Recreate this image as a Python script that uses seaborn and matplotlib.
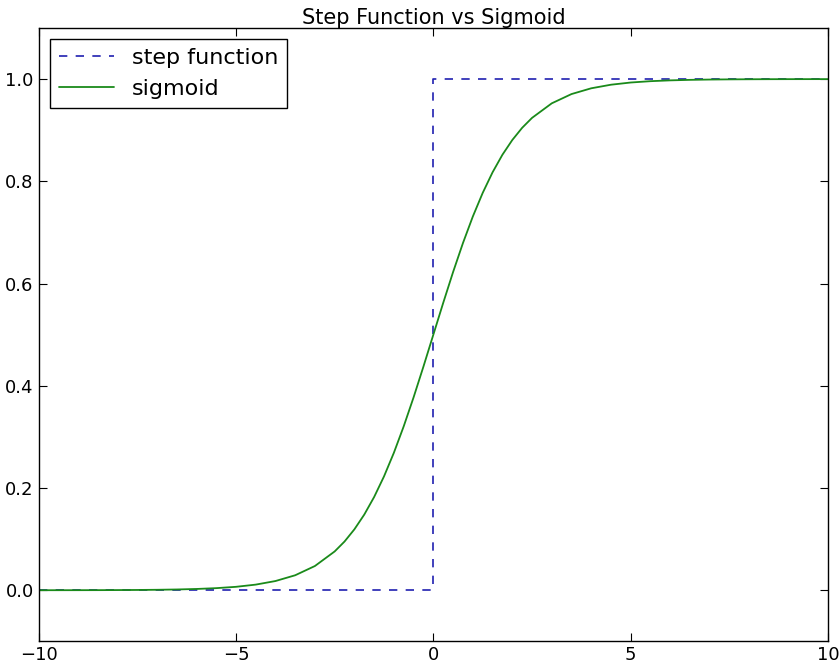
import matplotlib
matplotlib.use("Agg")
import matplotlib.pyplot as plt
import seaborn as sns
import pandas as pd

sns.set_style("ticks")
plt.rcParams['font.family'] = ['DejaVu Sans']
plt.rcParams['text.color'] = 'black'
plt.rcParams['xtick.color'] = 'black'
plt.rcParams['ytick.color'] = 'black'

step_x = [-10, 0, 0, 10]
step_y = [0, 0, 1, 1]

sig_x = [-10, -9.5, -9, -8.5, -8, -7.5, -7, -6.5, -6, -5.5, -5, -4.5, -4, -3.5, -3, -2.5,
         -2.25, -2, -1.75, -1.5, -1.25, -1, -0.75, -0.5, -0.25, 0, 0.25, 0.5, 0.75, 1, 1.25,
         1.5, 1.75, 2, 2.25, 2.5, 3, 3.5, 4, 4.5, 5, 5.5, 6, 6.5, 7, 7.5, 8, 8.5, 9, 9.5, 10]
sig_y = [0.00005, 0.00008, 0.00012, 0.0002, 0.00034, 0.00055, 0.0009, 0.0015, 0.0025, 0.0041,
         0.0067, 0.011, 0.018, 0.0293, 0.0474, 0.0759, 0.0953, 0.1192, 0.148, 0.1824, 0.2227,
         0.2689, 0.3208, 0.3775, 0.4378, 0.5, 0.5622, 0.6225, 0.6792, 0.7311, 0.7773, 0.8176,
         0.852, 0.8808, 0.9047, 0.9241, 0.9526, 0.9707, 0.982, 0.989, 0.9933, 0.9959, 0.9975,
         0.9985, 0.9991, 0.99945, 0.99966, 0.9998, 0.99988, 0.99992, 0.99995]

fig, ax = plt.subplots(figsize=(8.39, 6.66), dpi=100)
fig.subplots_adjust(left=0.046, right=0.987, top=0.958, bottom=0.037)

sns.lineplot(x=step_x, y=step_y, ax=ax, sort=False, estimator=None, color='#2020b0',
             linestyle=(0, (5, 5)), linewidth=1.2, label='step function')
sns.lineplot(x=sig_x, y=sig_y, ax=ax, sort=False, estimator=None, color='#1a8a1a',
             linewidth=1.3, label='sigmoid')

ax.set_xlim(-10, 10)
ax.set_ylim(-0.1, 1.1)
ax.set_xticks([-10, -5, 0, 5, 10])
ax.set_xticklabels(['\u221210', '\u22125', '0', '5', '10'])
ax.set_yticks([0.0, 0.2, 0.4, 0.6, 0.8, 1.0])
ax.set_yticklabels(['0.0', '0.2', '0.4', '0.6', '0.8', '1.0'])
ax.tick_params(direction='in', top=True, right=True, labelsize=13, length=6)
for s in ax.spines.values():
    s.set_color('black')
    s.set_linewidth(1)
ax.set_title('Step Function vs Sigmoid', fontsize=15, pad=3)
leg = ax.legend(loc='upper left', fontsize=16, frameon=True, fancybox=False,
                edgecolor='black', framealpha=1, handlelength=2.5)
leg.get_frame().set_linewidth(1)
fig.savefig('out.png', dpi=100, facecolor='white')
